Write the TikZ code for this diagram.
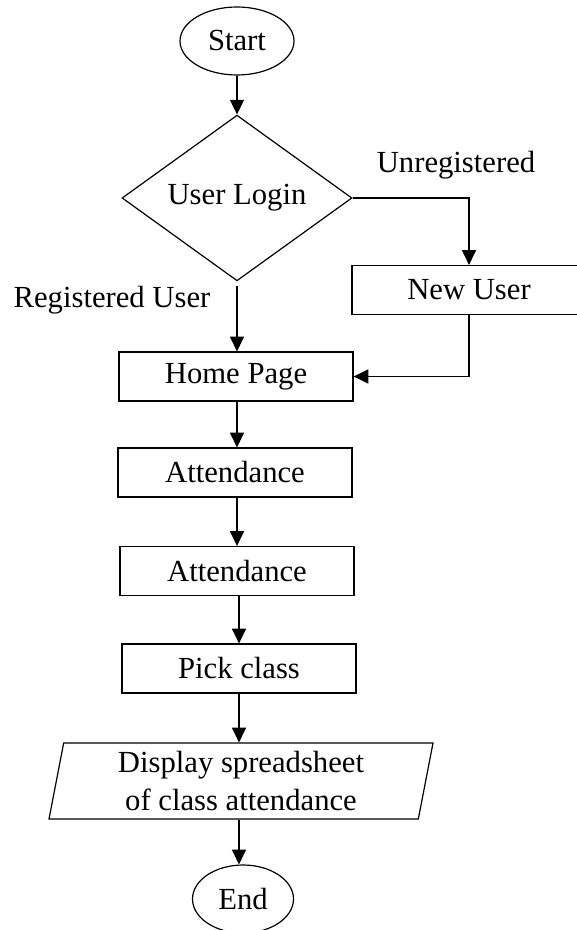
\documentclass[tikz,border=0pt]{standalone}
\usepackage{fontspec}
\setmainfont{Liberation Serif}
\usetikzlibrary{arrows.meta, shapes.geometric}

\begin{document}
\begin{tikzpicture}[x=0.75pt, y=-0.75pt, line width=0.9pt,
  every node/.style={font=\fontsize{23}{28}\selectfont, align=center},
  term/.style={draw, ellipse, inner sep=0pt, minimum width=85.5pt, minimum height=51pt},
  decision/.style={draw, diamond, inner sep=0pt, minimum width=172.5pt, minimum height=110pt},
  box/.style={draw, rectangle, inner sep=0pt, minimum width=175.5pt, minimum height=36.75pt},
  io/.style={draw, trapezium, trapezium left angle=76, trapezium right angle=104, trapezium stretches body, inner sep=0pt, minimum width=288pt, minimum height=57pt},
  arr/.style={-{Triangle[length=11pt, width=10.5pt]}}]
  \useasboundingbox (0,0) rectangle (577,930);

  % Flow nodes
  \node[term]     (start)   at (237,41)    {Start};
  \node[decision] (login)   at (237,198)   {User Login};
  \node[box]      (newuser) at (469,290)   {New User};
  \node[box]      (home)    at (236,376.5) {Home Page};
  \node[box]      (att1)    at (235,472.5) {Attendance};
  \node[box]      (att2)    at (237,571)   {Attendance};
  \node[box]      (pick)    at (239,668.5) {Pick class};
  \node[io]       (disp)    at (241,781)   {Display spreadsheet\\of class attendance};
  \node[term, minimum width=75.75pt] (end) at (243,899) {End};

  % Branch labels
  \node (unreg) at (456,165) {Unregistered};
  \node (reg)   at (112,300) {Registered User};

  % Arrows
  \draw[arr] (start)   -- (login);
  \draw[arr] (login)   -| (newuser);
  \draw[arr, shorten <=3.5pt] (login.south) -- (login.south |- home.north);
  \draw[arr] (newuser) |- (home);
  \draw[arr] (login.south |- home.south) -- (login.south |- att1.north);
  \draw[arr] (login.south |- att1.south) -- (login.south |- att2.north);
  \draw[arr] (pick.north |- att2.south) -- (pick.north);
  \draw[arr] (pick.south) -- (pick.south |- disp.north);
  \draw[arr] (pick.south |- disp.south) -- (pick.south |- end.north);
\end{tikzpicture}
\end{document}
